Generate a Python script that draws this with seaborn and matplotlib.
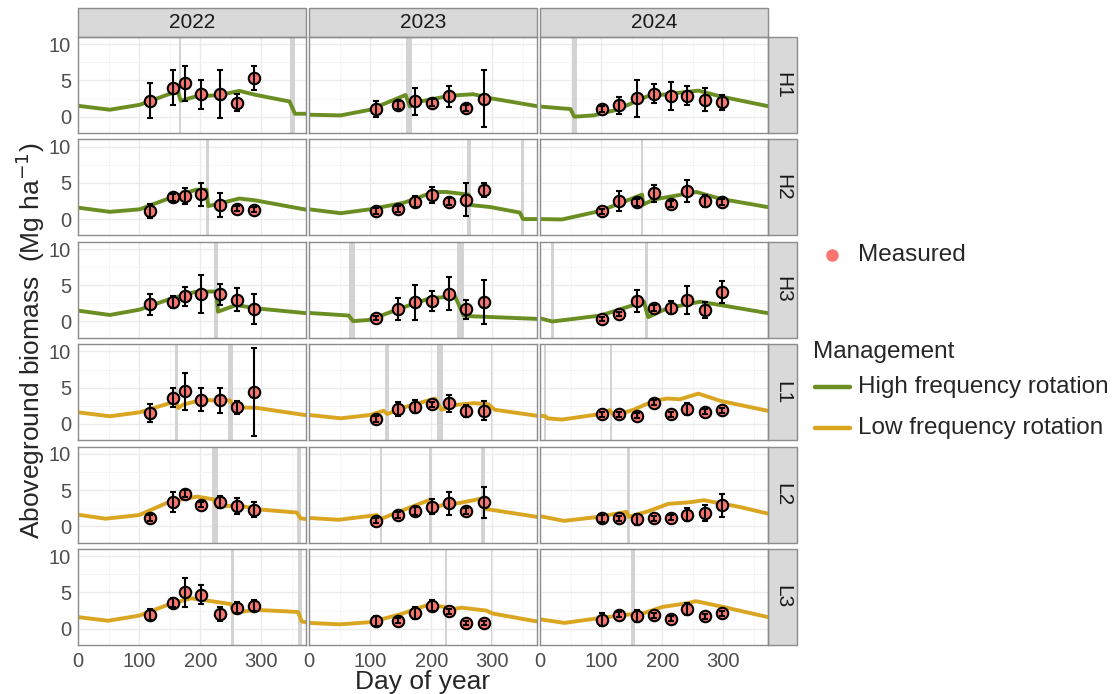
import numpy as np
import pandas as pd
import seaborn as sns
import matplotlib.pyplot as plt
from matplotlib.patches import Rectangle
from matplotlib.lines import Line2D

# 年份与处理
years = [2022, 2023, 2024]
treatments = ["H1", "H2", "H3", "L1", "L2", "L3"]
mgmt_of = {"H": "High frequency rotation", "L": "Low frequency rotation"}

# 实测日期（各处理相同）
days_2022 = [117, 155, 175, 202, 232, 260, 288]
days_2023 = [110, 145, 173, 201, 229, 257, 286]
days_2024 = [102, 130, 158, 186, 215, 241, 270, 298]

# 实测均值与标准差（每个处理: 2022, 2023, 2024）
h1_mean = [[2.2, 4.0, 4.6, 3.1, 3.15, 1.95, 5.35], [1.05, 1.6, 2.1, 1.95, 2.8, 1.2, 2.5],
           [1.1, 1.55, 2.56, 3.15, 2.88, 2.92, 2.33, 2.0]]
h1_sd = [[2.45, 2.4, 2.4, 2.0, 3.3, 1.15, 1.7], [1.05, 0.6, 1.9, 0.5, 1.45, 0.45, 3.9],
         [0.4, 1.2, 2.55, 1.3, 1.95, 1.35, 1.6, 1.05]]
h2_mean = [[1.13, 3.0, 3.18, 3.4, 1.95, 1.4, 1.3], [1.13, 1.35, 2.4, 3.33, 2.4, 2.7, 4.05],
           [1.08, 2.48, 2.34, 3.56, 2.1, 3.92, 2.48, 2.39]]
h2_sd = [[1.0, 0.5, 1.05, 1.6, 1.6, 0.35, 0.3], [0.4, 0.4, 0.75, 1.15, 0.5, 2.3, 1.0],
         [0.35, 1.35, 0.5, 1.2, 0.4, 1.5, 0.8, 0.4]]
h3_mean = [[2.4, 2.73, 3.45, 3.77, 3.77, 3.0, 1.73], [0.45, 1.73, 2.64, 2.82, 3.86, 1.68, 2.68],
           [0.36, 1.05, 2.82, 1.82, 1.9, 3.0, 1.6, 4.05]]
h3_sd = [[1.45, 0.85, 1.3, 2.65, 1.45, 1.6, 2.05], [0.3, 1.5, 2.4, 1.35, 2.3, 1.3, 3.0],
         [0.3, 0.3, 1.5, 0.4, 0.9, 1.9, 1.05, 1.5]]
l1_mean = [[1.5, 3.6, 4.5, 3.36, 3.23, 2.27, 4.4], [0.68, 2.05, 2.36, 2.68, 2.82, 1.82, 1.82],
           [1.36, 1.36, 1.14, 2.95, 1.36, 2.05, 1.68, 1.9]]
l1_sd = [[1.2, 1.3, 2.55, 1.6, 1.7, 0.9, 6.05], [0.35, 1.0, 0.9, 0.4, 1.2, 0.8, 1.3],
         [0.35, 0.35, 0.35, 0.4, 0.35, 0.85, 0.35, 0.35]]
l2_mean = [[1.15, 3.4, 4.5, 3.0, 3.35, 2.8, 2.3], [0.8, 1.6, 2.1, 2.7, 3.2, 2.1, 3.3],
           [1.1, 1.1, 0.95, 1.1, 1.2, 1.6, 1.9, 2.9]]
l2_sd = [[0.4, 1.4, 0.5, 0.4, 0.8, 1.1, 1.0], [0.4, 0.4, 0.5, 1.0, 1.6, 0.4, 2.1],
         [0.5, 0.35, 0.8, 0.35, 0.35, 0.9, 1.1, 1.6]]
l3_mean = [[1.95, 3.6, 5.0, 4.7, 2.05, 2.9, 3.2], [1.05, 1.1, 2.2, 3.2, 2.4, 0.8, 0.8],
           [1.25, 1.95, 1.75, 1.85, 1.4, 2.7, 1.7, 2.1]]
l3_sd = [[0.8, 0.6, 2.0, 1.3, 1.0, 0.8, 0.8], [0.7, 0.35, 0.85, 0.7, 0.35, 0.3, 0.3],
         [0.9, 0.35, 0.85, 0.35, 0.3, 0.85, 0.35, 0.35]]

# 模拟曲线 (day, biomass)
h1_sim = [
    [(0, 1.5), (52, 0.96), (101, 1.64), (150, 3.15), (164, 3.35), (168, 2.2), (193, 2.8), (231, 2.97),
     (264, 3.56), (291, 3.0), (346, 2.1), (355, 0.4), (373, 0.4)],
    [(0, 0.27), (52, 0.18), (100, 0.96), (158, 3.0), (165, 1.4), (182, 2.1), (231, 2.9), (269, 3.1),
     (296, 2.56), (373, 1.45)],
    [(0, 1.4), (50, 1.05), (56, 0.0), (88, 0.18), (126, 0.96), (175, 2.8), (208, 3.1), (259, 3.6),
     (295, 2.8), (373, 1.45)]]
h2_sim = [
    [(0, 1.58), (52, 1.0), (101, 1.35), (150, 2.9), (193, 4.05), (210, 4.05), (213, 1.8), (229, 2.1),
     (264, 2.84), (291, 2.57), (373, 1.3)],
    [(0, 1.35), (52, 0.81), (100, 1.35), (155, 2.25), (204, 3.74), (225, 3.74), (261, 3.38), (264, 1.94),
     (296, 1.67), (345, 0.9), (350, 0.0), (373, 0.0)],
    [(0, 0.0), (36, -0.05), (99, 1.13), (167, 3.38), (169, 2.0), (186, 2.7), (256, 3.74), (295, 2.8),
     (373, 1.65)]]
h3_sim = [
    [(0, 1.5), (52, 0.9), (101, 1.64), (150, 3.1), (193, 4.1), (226, 4.14), (229, 1.36), (259, 2.27),
     (291, 1.82), (373, 1.15)],
    [(0, 1.18), (65, 0.82), (72, 0.05), (100, 0.23), (144, 1.64), (198, 3.23), (239, 3.45), (253, 0.82),
     (264, 0.73), (373, 0.36)],
    [(0, 0.45), (20, 0.0), (99, 0.82), (170, 2.73), (177, 0.6), (208, 1.82), (262, 2.73), (295, 2.27),
     (373, 1.15)]]
l1_sim = [
    [(0, 1.6), (52, 1.05), (101, 1.6), (150, 2.86), (160, 3.14), (164, 2.18), (172, 2.68), (204, 3.32),
     (237, 3.18), (248, 3.27), (256, 2.27), (291, 2.23), (373, 1.2)],
    [(0, 1.23), (52, 0.77), (100, 1.23), (122, 1.82), (128, 1.36), (155, 2.27), (206, 3.5), (217, 1.95),
     (242, 2.64), (269, 2.86), (293, 2.73), (304, 1.95), (373, 1.12)],
    [(0, 1.14), (9, 1.05), (12, 0.77), (36, 0.6), (99, 1.36), (114, 1.9), (121, 1.14), (153, 1.95),
     (186, 3.18), (208, 3.5), (229, 3.4), (259, 4.18), (295, 3.18), (373, 1.8)]]
l2_sim = [
    [(0, 1.6), (45, 1.05), (100, 1.55), (150, 3.4), (195, 4.1), (222, 3.7), (227, 2.7), (260, 2.9),
     (300, 2.3), (358, 1.9), (364, 1.1), (373, 1.0)],
    [(0, 1.15), (49, 0.9), (111, 1.55), (117, 1.0), (147, 2.0), (196, 3.6), (201, 2.7), (245, 3.2),
     (281, 3.8), (289, 2.4), (373, 1.3)],
    [(0, 1.4), (39, 0.75), (96, 1.3), (142, 2.0), (145, 1.3), (178, 2.1), (210, 3.1), (243, 3.3),
     (268, 3.6), (325, 2.7), (373, 1.75)]]
l3_sim = [
    [(0, 1.6), (49, 1.1), (100, 1.8), (150, 3.4), (185, 4.2), (210, 3.9), (250, 3.4), (255, 2.2),
     (290, 2.6), (340, 2.4), (360, 2.3), (366, 1.0), (373, 0.9)],
    [(0, 0.8), (50, 0.6), (100, 0.9), (150, 2.0), (195, 3.3), (222, 3.0), (225, 2.6), (250, 2.9),
     (290, 2.5), (300, 2.1), (373, 1.0)],
    [(0, 1.3), (40, 0.8), (100, 1.5), (150, 2.0), (154, 1.7), (200, 3.0), (240, 3.5), (255, 3.8),
     (300, 3.0), (373, 1.6)]]

# 管理事件（灰色竖条）
h1_bands = [[(165, 169), (347, 355)], [(159, 169)], [(53, 61)]]
h2_bands = [[(209, 214)], [(259, 265), (346, 352)], [(166, 169)]]
h3_bands = [[(222, 229)], [(66, 76), (242, 254)], [(18, 23), (171, 176)]]
l1_bands = [[(158, 164), (245, 254)], [(124, 131), (209, 219), (298, 300)], [(7, 10), (114, 118)]]
l2_bands = [[(220, 229), (358, 365)], [(116, 120), (196, 202), (282, 288)], [(143, 147)]]
l3_bands = [[(250, 256), (360, 367)], [(222, 226), (297, 300)], [(149, 155)]]

means = dict(zip(treatments, [h1_mean, h2_mean, h3_mean, l1_mean, l2_mean, l3_mean]))
sds = dict(zip(treatments, [h1_sd, h2_sd, h3_sd, l1_sd, l2_sd, l3_sd]))
sims = dict(zip(treatments, [h1_sim, h2_sim, h3_sim, l1_sim, l2_sim, l3_sim]))
bands = dict(zip(treatments, [h1_bands, h2_bands, h3_bands, l1_bands, l2_bands, l3_bands]))
obs_days = [days_2022, days_2023, days_2024]

sim_rows, obs_rows = [], []
for t in treatments:
    for i, yr in enumerate(years):
        for d, v in sims[t][i]:
            sim_rows.append(dict(trt=t, year=yr, day=d, biomass=v, mgmt=mgmt_of[t[0]]))
        for d, m, s in zip(obs_days[i], means[t][i], sds[t][i]):
            obs_rows.append(dict(trt=t, year=yr, day=d, biomass=m, sd=s))
df_sim = pd.DataFrame(sim_rows)
df_obs = pd.DataFrame(obs_rows)

colors = {"High frequency rotation": "#6B8E23", "Low frequency rotation": "#DAA520"}
border = "#8C8C8C"

sns.set_theme(style="white")
plt.rcParams['font.family'] = ['Liberation Sans', 'DejaVu Sans']

W, H = 1113, 694
fig, axes = plt.subplots(6, 3, figsize=(W / 100, H / 100), dpi=100, sharex=True, sharey=True,
                         gridspec_kw=dict(left=78 / W, right=768 / W, top=1 - 37 / H, bottom=1 - 645 / H,
                                          wspace=0.013, hspace=0.067))

for r, t in enumerate(treatments):
    for c, yr in enumerate(years):
        ax = axes[r, c]
        sub = df_sim[(df_sim.trt == t) & (df_sim.year == yr)]
        ob = df_obs[(df_obs.trt == t) & (df_obs.year == yr)]
        for a, b in bands[t][c]:
            ax.axvspan(a, b, color="#D3D3D3", lw=0, zorder=1)
        sns.lineplot(data=sub, x="day", y="biomass", color=colors[sub.mgmt.iloc[0]], lw=2.8,
                     estimator=None, sort=False, ax=ax, legend=False, zorder=2)
        sns.scatterplot(data=ob, x="day", y="biomass", color="#F8766D", edgecolor="black",
                        s=68, linewidth=1.5, ax=ax, legend=False, zorder=3)
        ax.errorbar(ob.day, ob.biomass, yerr=ob.sd, fmt="none", ecolor="black",
                    elinewidth=1.5, capsize=2.5, capthick=1.5, zorder=4)

        ax.set_xlim(0, 373)
        ax.set_ylim(-2.25, 11.0)
        ax.set_xticks([0, 100, 200, 300])
        ax.set_xticks([50, 150, 250, 350], minor=True)
        ax.set_yticks([0, 5, 10])
        ax.set_yticks([2.5, 7.5], minor=True)
        ax.grid(which="major", color="#EBEBEB", lw=1.0, zorder=0)
        ax.grid(which="minor", color="#F4F4F4", lw=0.6, zorder=0)
        ax.set_axisbelow(True)
        for sp in ax.spines.values():
            sp.set_color(border)
            sp.set_linewidth(1.0)
        ax.set_xlabel("")
        ax.set_ylabel("")
        ax.tick_params(which="major", labelsize=14.5, labelcolor="#4D4D4D", color="#4D4D4D",
                       length=3 if (c == 0 or r == 5) else 0, width=0.8, pad=2)
        ax.tick_params(which="minor", length=0)
        if c != 0:
            ax.tick_params(axis="y", length=0)
        if r != 5:
            ax.tick_params(axis="x", length=0)

        # 分面条带
        if r == 0:
            ax.add_patch(Rectangle((0, 1), 1, 29 / 96, transform=ax.transAxes, clip_on=False,
                                   fc="#D9D9D9", ec=border, lw=1.0))
            ax.text(0.5, 1 + 14.5 / 96, str(yr), transform=ax.transAxes, ha="center", va="center",
                    fontsize=15, color="#1A1A1A")
        if c == 2:
            ax.add_patch(Rectangle((1, 0), 29 / 228, 1, transform=ax.transAxes, clip_on=False,
                                   fc="#D9D9D9", ec=border, lw=1.0))
            ax.text(1 + 14.5 / 228, 0.5, t, transform=ax.transAxes, ha="center", va="center",
                    rotation=-90, fontsize=15, color="#1A1A1A")

fig.text(30 / W, 1 - 341 / H, "Aboveground biomass  (Mg ha$^{-1}$)", rotation=90,
         ha="center", va="center", fontsize=19)
fig.text(423 / W, 1 - 682 / H, "Day of year", ha="center", va="center", fontsize=19)

# 图例
fig.add_artist(Line2D([832 / W], [1 - 255 / H], marker="o", ms=8, mfc="#F8766D", mec="#F8766D",
                      ls="none", transform=fig.transFigure))
fig.text(858 / W, 1 - 255 / H, "Measured", ha="left", va="center", fontsize=17.5)
fig.text(813 / W, 1 - 352 / H, "Management", ha="left", va="center", fontsize=17.5)
for yy, lab in [(387, "High frequency rotation"), (428, "Low frequency rotation")]:
    fig.add_artist(Line2D([815 / W, 850 / W], [1 - yy / H, 1 - yy / H], color=colors[lab], lw=3.2,
                          transform=fig.transFigure))
    fig.text(858 / W, 1 - yy / H, lab, ha="left", va="center", fontsize=17.5)

plt.savefig("out.png", dpi=100)
